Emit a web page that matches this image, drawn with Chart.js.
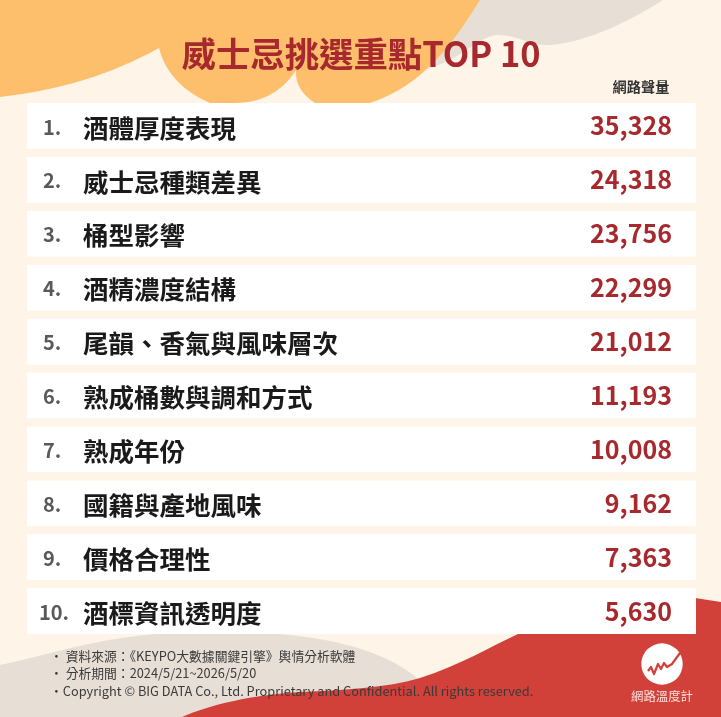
<!DOCTYPE html>
<html lang="zh-Hant">
<head>
<meta charset="utf-8">
<title>威士忌挑選重點TOP 10</title>
<script src="https://cdn.jsdelivr.net/npm/chart.js@4/dist/chart.umd.min.js"></script>
<style>
    html, body { margin: 0; padding: 0; background: #fef4e8; }
    canvas { display: block; }
</style>
</head>
<body>
<canvas id="chart" width="721" height="717"></canvas>
<script>
// 資料
const ranks = ['1.', '2.', '3.', '4.', '5.', '6.', '7.', '8.', '9.', '10.'];
const topics = ['酒體厚度表現', '威士忌種類差異', '桶型影響', '酒精濃度結構', '尾韻、香氣與風味層次',
    '熟成桶數與調和方式', '熟成年份', '國籍與產地風味', '價格合理性', '酒標資訊透明度'];
const volumes = [35328, 24318, 23756, 22299, 21012, 11193, 10008, 9162, 7363, 5630];
const rowBands = [1, 1, 1, 1, 1, 1, 1, 1, 1, 1]; // 每列白底都是滿版

const titleText = '威士忌挑選重點TOP 10';
const columnTitle = '網路聲量';
const footerLines = [
    '・ 資料來源：《KEYPO大數據關鍵引擎》輿情分析軟體',
    '・ 分析期間：2024/5/21~2026/5/20',
    '・Copyright © BIG DATA Co., Ltd. Proprietary and Confidential. All rights reserved.'
];
const logoText = '網路溫度計';

const FONT = '"Noto Sans CJK TC", "Noto Sans", sans-serif';
const RED = '#a7282d';

// 背景色塊
function drawShapes(ctx) {
    // 灰色 (上)
    ctx.fillStyle = '#e7dfd5';
    ctx.beginPath();
    ctx.moveTo(470, 0);
    ctx.lineTo(663, 0);
    ctx.bezierCurveTo(635, 18, 590, 42, 550, 45);
    ctx.bezierCurveTo(530, 46, 515, 34, 497, 35);
    ctx.bezierCurveTo(475, 37, 455, 68, 410, 72);
    ctx.closePath();
    ctx.fill();

    // 橘色 (上)
    ctx.fillStyle = '#fdbf6c';
    ctx.beginPath();
    ctx.moveTo(0, 0);
    ctx.lineTo(480, 0);
    ctx.bezierCurveTo(455, 40, 425, 85, 370, 103);
    ctx.lineTo(315, 103);
    ctx.bezierCurveTo(303, 95, 295, 85, 296, 70);
    ctx.bezierCurveTo(285, 88, 265, 103, 235, 103);
    ctx.lineTo(210, 103);
    ctx.bezierCurveTo(185, 92, 166, 75, 159, 48);
    ctx.bezierCurveTo(110, 75, 60, 90, 0, 97);
    ctx.closePath();
    ctx.fill();

    // 灰色 (下)
    ctx.fillStyle = '#e7dfd5';
    ctx.beginPath();
    ctx.moveTo(0, 665);
    ctx.bezierCurveTo(50, 655, 110, 632, 200, 632);
    ctx.bezierCurveTo(290, 630, 380, 640, 425, 685);
    ctx.lineTo(425, 717);
    ctx.lineTo(0, 717);
    ctx.closePath();
    ctx.fill();

    // 紅色 (下)
    ctx.fillStyle = '#d2403a';
    ctx.beginPath();
    ctx.moveTo(182, 717);
    ctx.bezierCurveTo(210, 705, 250, 695, 300, 692);
    ctx.bezierCurveTo(345, 690, 385, 688, 420, 678);
    ctx.bezierCurveTo(460, 665, 490, 647, 520, 633);
    ctx.bezierCurveTo(580, 610, 640, 597, 695, 598);
    ctx.lineTo(721, 602);
    ctx.lineTo(721, 717);
    ctx.closePath();
    ctx.fill();
}

function drawLogo(ctx) {
    ctx.fillStyle = '#ffffff';
    ctx.beginPath();
    ctx.arc(662, 664, 20.7, 0, Math.PI * 2);
    ctx.fill();

    ctx.strokeStyle = '#d2403a';
    ctx.lineWidth = 2.2;
    ctx.lineJoin = 'round';
    ctx.beginPath();
    ctx.moveTo(648, 671);
    ctx.lineTo(651, 667);
    ctx.lineTo(654, 674);
    ctx.lineTo(658, 664);
    ctx.lineTo(661, 669);
    ctx.lineTo(664, 663);
    ctx.lineTo(667, 667);
    ctx.lineTo(672, 664);
    ctx.lineTo(680, 653);
    ctx.stroke();

    ctx.fillStyle = '#fbe3dc';
    ctx.font = '400 12.4px ' + FONT;
    ctx.textAlign = 'center';
    ctx.fillText(logoText, 662, 696);
}

const backdrop = {
    id: 'backdrop',
    beforeDraw(chart) {
        const ctx = chart.ctx;
        ctx.save();
        drawShapes(ctx);
        ctx.textBaseline = 'middle';
        ctx.textAlign = 'center';
        ctx.fillStyle = RED;
        ctx.font = '700 34.4px ' + FONT;
        ctx.fillText(titleText, 361, 54);
        ctx.fillStyle = '#333333';
        ctx.font = '700 14.2px ' + FONT;
        ctx.fillText(columnTitle, 641, 87);
        ctx.restore();
    }
};

// 列文字依 y 軸位置擺放
const rowText = {
    id: 'rowText',
    afterDatasetsDraw(chart) {
        const ctx = chart.ctx;
        const y = chart.scales.y;
        ctx.save();
        ctx.textBaseline = 'middle';
        topics.forEach((topic, i) => {
            const py = y.getPixelForValue(i);
            ctx.textAlign = 'left';
            ctx.fillStyle = '#595959';
            ctx.font = '700 20px ' + FONT;
            ctx.fillText(ranks[i], ranks[i].length > 2 ? 39 : 43, py + 1);
            ctx.fillStyle = '#1a1a1a';
            ctx.font = '700 25.5px ' + FONT;
            ctx.fillText(topic, 83, py + 2);
            ctx.textAlign = 'right';
            ctx.fillStyle = RED;
            ctx.font = '700 25px ' + FONT;
            ctx.fillText(volumes[i].toLocaleString('en-US'), 672, py);
        });

        ctx.textAlign = 'left';
        ctx.fillStyle = '#3a3a3a';
        ctx.font = '400 12.8px ' + FONT;
        footerLines.forEach((line, i) => {
            ctx.fillText(line, 50, 656 + i * 17.5);
        });
        drawLogo(ctx);
        ctx.restore();
    }
};

new Chart(document.getElementById('chart'), {
    type: 'bar',
    data: {
        labels: topics,
        datasets: [{
            label: columnTitle,
            data: rowBands,
            backgroundColor: '#ffffff',
            borderWidth: 0,
            barThickness: 45
        }]
    },
    options: {
        indexAxis: 'y',
        responsive: false,
        animation: false,
        devicePixelRatio: 1,
        layout: { padding: { left: 27, right: 25, top: 99, bottom: 79 } },
        plugins: {
            legend: { display: false },
            tooltip: { enabled: false }
        },
        scales: {
            x: { display: false, min: 0, max: 1 },
            y: { display: false }
        }
    },
    plugins: [backdrop, rowText]
});
</script>
</body>
</html>
